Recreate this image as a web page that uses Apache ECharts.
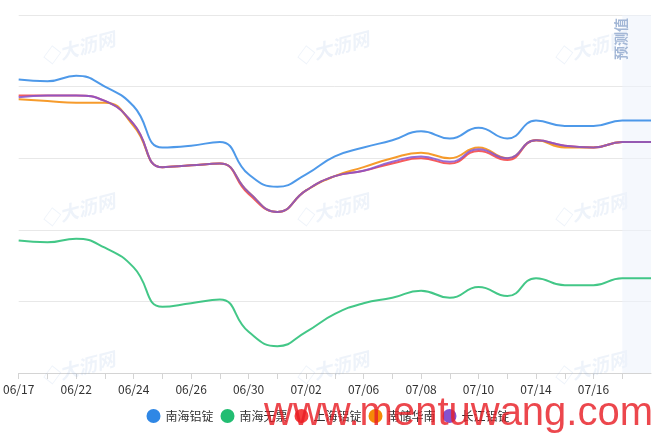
<!DOCTYPE html>
<html>
<head>
<meta charset="utf-8">
<script src="https://cdn.jsdelivr.net/npm/echarts@6/dist/echarts.min.js"></script>
<style>
html,body{margin:0;padding:0;background:#fff;}
#chart{width:656px;height:444px;}
</style>
</head>
<body>
<div id="chart"></div>
<script>
const categories = ['06/17','06/19','06/22','06/23','06/24','06/25','06/26','06/29','06/30','07/01','07/02','07/03','07/06','07/07','07/08','07/09','07/10','07/13','07/14','07/15','07/16','07/17','07/20'];
const seriesNames = ['南海铝锭','南海无票','上海铝锭','南储华南','长江铝锭'];
const nanhaiIngot = [14420,14415,14430,14400,14345,14230,14235,14245,14155,14120,14155,14205,14230,14250,14275,14255,14285,14255,14305,14290,14290,14305,14305];
const nanhaiNoInvoice = [13970,13965,13975,13950,13895,13785,13795,13805,13715,13675,13715,13765,13795,13810,13830,13810,13840,13815,13865,13845,13845,13865,13865];
const shanghaiIngot = [14375,14375,14375,14360,14295,14175,14180,14185,14100,14050,14110,14150,14165,14185,14200,14185,14220,14195,14250,14235,14230,14245,14245];
const nanchuHuanan = [14365,14360,14355,14355,14290,14175,14180,14185,14105,14050,14110,14150,14175,14200,14215,14200,14230,14200,14250,14230,14230,14245,14245];
const changjiangIngot = [14370,14375,14375,14360,14295,14175,14180,14185,14105,14050,14110,14150,14165,14190,14205,14190,14225,14200,14250,14235,14230,14245,14245];
const forecastRange = ['07/17','07/20'];
const forecastLabel = '预测值';
const yMin = 13600, yMax = 14600, yStep = 200;

const colors = ['#2f87e5','#22bd72','#f5403f','#f58a07','#8552cf'];
const allData = [nanhaiIngot, nanhaiNoInvoice, shanghaiIngot, nanchuHuanan, changjiangIngot];

const chart = echarts.init(document.getElementById('chart'), null, {renderer:'canvas'});
const series = seriesNames.map((name, i) => {
  const s = {
    name: name,
    type: 'line',
    smooth: true,
    symbol: 'none',
    data: allData[i],
    itemStyle: {color: colors[i]},
    lineStyle: {width: 2, color: colors[i], opacity: 0.85}
  };
  if (i === 0) {
    s.markArea = {
      silent: true,
      itemStyle: {color: 'rgba(236,242,251,0.55)'},
      data: [[{xAxis: forecastRange[0]}, {xAxis: forecastRange[1]}]]
    };
  }
  return s;
});

const wmPos = [[78,48],[332,48],[590,48],[78,210],[332,210],[590,210],[78,368],[332,368],[590,368]];
const graphics = wmPos.map(p => ({
  type: 'text', x: p[0], y: p[1], rotation: 0.26, z: 1, silent: true,
  style: {text: '◇大沥网', fill: 'rgba(120,160,220,0.13)', font: 'bold italic 19px "Noto Sans CJK SC"', textAlign: 'center', textVerticalAlign: 'middle'}
}));
graphics.push({
  type: 'text', x: 621, y: 60, rotation: Math.PI/2, z: 50, silent: true,
  style: {text: forecastLabel, fill: '#a3b7d6', font: 'bold 14px "Noto Sans CJK SC"', textAlign: 'left', textVerticalAlign: 'middle'}
});
graphics.push({
  type: 'text', x: 264, y: 414, z: 100, silent: true,
  style: {text: 'www.mentuwang.com', fill: 'rgba(232,30,38,0.82)', font: '40px "Liberation Sans"', textAlign: 'left', textVerticalAlign: 'middle'}
});

chart.setOption({
  animation: false,
  color: colors,
  grid: {left: 18, right: 5, top: 15, bottom: 71, containLabel: false},
  legend: {
    bottom: 16, left: 'center',
    icon: 'circle', itemWidth: 14, itemHeight: 14, itemGap: 7,
    textStyle: {color: '#333', fontSize: 12, fontFamily: '"Noto Sans CJK SC", sans-serif'},
    data: seriesNames
  },
  xAxis: {
    type: 'category',
    boundaryGap: false,
    data: categories,
    axisLine: {lineStyle: {color: '#d4d4d4'}},
    axisTick: {interval: 0, length: 6, lineStyle: {color: '#d4d4d4'}},
    axisLabel: {interval: 1, showMaxLabel: false, margin: 10, color: '#333', fontSize: 12, fontFamily: '"Noto Sans CJK SC", sans-serif'}
  },
  yAxis: {
    type: 'value',
    min: yMin, max: yMax, interval: yStep,
    axisLabel: {show: false},
    axisLine: {show: false},
    axisTick: {show: false},
    splitLine: {lineStyle: {color: '#e8e8e8'}}
  },
  graphic: graphics,
  series: series
});
</script>
</body>
</html>
